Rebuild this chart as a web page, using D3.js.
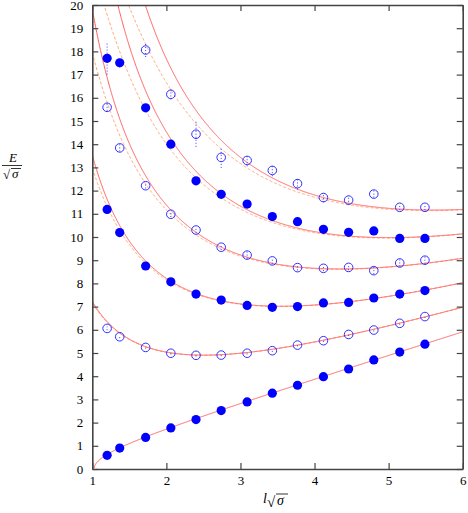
<!DOCTYPE html>
<html><head><meta charset="utf-8">
<script src="https://cdn.jsdelivr.net/npm/d3@7"></script>
<style>body{margin:0;background:#fff}svg{display:block}</style>
</head><body>
<script>
// ---- data ----
const lsig = [1.20, 1.37, 1.72, 2.06, 2.40, 2.74, 3.09, 3.43, 3.77, 4.12, 4.46, 4.80, 5.15, 5.49];
const s0 = [0.59, 0.90, 1.36, 1.77, 2.13, 2.52, 2.89, 3.27, 3.61, 3.98, 4.31, 4.70, 5.04, 5.38];
const s0err = [0.02,0.02,0.02,0.02,0.02,0.02,0.02,0.02,0.02,0.02,0.02,0.02,0.02,0.02];
const s1 = [6.06, 5.70, 5.24, 4.99, 4.90, 4.91, 4.99, 5.10, 5.34, 5.53, 5.80, 5.99, 6.28, 6.57];
const s1err = [0.08,0.06,0.05,0.05,0.05,0.05,0.05,0.05,0.05,0.05,0.06,0.06,0.06,0.06];
const s2 = [11.19, 10.19, 8.75, 8.07, 7.54, 7.28, 7.05, 6.97, 7.00, 7.16, 7.18, 7.37, 7.54, 7.69];
const s2err = [0.15,0.1,0.08,0.08,0.08,0.08,0.08,0.08,0.08,0.08,0.08,0.08,0.08,0.08];
const s3 = [15.59, 13.84, 12.21, 10.98, 10.30, 9.56, 9.22, 8.97, 8.68, 8.65, 8.69, 8.55, 8.88, 9.00];
const s3err = [0.15,0.15,0.12,0.12,0.12,0.12,0.15,0.12,0.12,0.12,0.12,0.15,0.15,0.15];
const s4 = [17.70, 17.51, 15.57, 14.00, 12.42, 11.84, 11.42, 10.88, 10.66, 10.33, 10.20, 10.26, 9.94, 9.94];
const s4err = [0.7,0.2,0.15,0.15,0.15,0.12,0.12,0.12,0.12,0.12,0.12,0.12,0.12,0.12];
const lsig5 = [1.72, 2.06, 2.40, 2.74, 3.09, 3.43, 3.77, 4.12, 4.46, 4.80, 5.15, 5.49];
const s5 = [18.06, 16.15, 14.43, 13.43, 13.30, 12.87, 12.30, 11.70, 11.59, 11.85, 11.28, 11.28];
const s5err = [0.3, 0.22, 0.54, 0.45, 0.25, 0.25, 0.25, 0.2, 0.2, 0.15, 0.12, 0.12];

// Nambu-Goto curves: level n (= N + N~), momentum quantum q
const ngN = [0, 1, 2, 3, 4, 5];
const ngQ = [0, 1, 2, 3, 4, 5];
// dashed curves: same, but with lattice momentum 2 sin(p a / 2) / a
const latN = [1, 2, 3, 4, 5];
const latQ = [1, 2, 3, 4, 5];
const aSqrtSigma = 0.0858;

const xTicks = [1, 2, 3, 4, 5, 6];
const yTicks = d3.range(0, 21);

// ---- drawing ----
const W = 468, H = 513;
const svg = d3.select("body").append("svg").attr("width", W).attr("height", H);
const x = d3.scaleLinear().domain([1, 6]).range([92.3, 462.7]);
const y = d3.scaleLinear().domain([0, 20]).range([469, 5]);
const font = "'Liberation Serif','DejaVu Serif',serif";

svg.append("defs").append("clipPath").attr("id", "clip")
  .append("rect").attr("x", x(1)).attr("y", y(20)).attr("width", x(6) - x(1)).attr("height", y(0) - y(20));

const plot = svg.append("g").attr("clip-path", "url(#clip)");
const xs = d3.range(1.0, 6.0001, 0.004);
const line = d3.line().x(d => x(d[0])).y(d => y(d[1]));

function curvePts(f) {
  const pts = [];
  xs.forEach(v => { const e2 = f(v); if (e2 >= 0) { const e = Math.sqrt(e2); if (e < 24) pts.push([v, e]); } });
  return pts;
}
const c0 = v => 4 * Math.PI * v; // helper
latN.forEach((n, i) => {
  const q = latQ[i];
  plot.append("path").datum(curvePts(v => {
    const p = 2 / aSqrtSigma * Math.sin(Math.PI * q * aSqrtSigma / v);
    return v * v + 4 * Math.PI * (n - 1 / 12) + p * p;
  }))
    .attr("d", line).attr("fill", "none").attr("stroke", "#ffa070").attr("stroke-width", 1)
    .attr("stroke-dasharray", "3,2");
});
ngN.forEach((n, i) => {
  const q = ngQ[i];
  plot.append("path").datum(curvePts(v => v * v + 4 * Math.PI * (n - 1 / 12) + Math.pow(2 * Math.PI * q / v, 2)))
    .attr("d", line).attr("fill", "none").attr("stroke", "#ff5a5a").attr("stroke-width", 1);
});

// frame & axes
const tk = 6;
svg.append("g").attr("transform", `translate(0,${y(0)})`)
  .call(d3.axisBottom(x).tickValues(xTicks).tickSizeInner(-tk).tickSizeOuter(0).tickPadding(7).tickFormat(d3.format("d")));
svg.append("g").attr("transform", `translate(0,${y(20)})`)
  .call(d3.axisTop(x).tickValues(xTicks).tickSizeInner(-tk).tickSizeOuter(0).tickFormat(""));
svg.append("g").attr("transform", `translate(${x(1)},0)`)
  .call(d3.axisLeft(y).tickValues(yTicks).tickSizeInner(-tk).tickSizeOuter(0).tickPadding(9).tickFormat(d3.format("d")));
svg.append("g").attr("transform", `translate(${x(6)},0)`)
  .call(d3.axisRight(y).tickValues(yTicks).tickSizeInner(-tk).tickSizeOuter(0).tickFormat(""));
svg.selectAll(".domain").attr("stroke", "#444").attr("stroke-width", 1.6);
svg.selectAll(".tick line").attr("stroke", "#444").attr("stroke-width", 1.2);
svg.selectAll(".tick text").style("font-family", font).style("font-size", "13px").attr("fill", "#000");

// data
function errbars(xv, yv, ev) {
  svg.append("g").selectAll("line").data(yv).join("line")
    .attr("x1", (d, i) => x(xv[i])).attr("x2", (d, i) => x(xv[i]))
    .attr("y1", (d, i) => y(d - ev[i])).attr("y2", (d, i) => y(d + ev[i]))
    .attr("stroke", "#3a3aff").attr("stroke-width", 1).attr("stroke-dasharray", "1,2");
}
function filled(xv, yv, ev) {
  errbars(xv, yv, ev);
  svg.append("g").selectAll("circle").data(yv).join("circle")
    .attr("cx", (d, i) => x(xv[i])).attr("cy", d => y(d)).attr("r", 4.6).attr("fill", "#0000ff");
}
function open(xv, yv, ev) {
  errbars(xv, yv, ev);
  svg.append("g").selectAll("circle").data(yv).join("circle")
    .attr("cx", (d, i) => x(xv[i])).attr("cy", d => y(d)).attr("r", 4.3)
    .attr("fill", "none").attr("stroke", "#3030ff").attr("stroke-width", 1);
}
filled(lsig, s0, s0err);
open(lsig, s1, s1err);
filled(lsig, s2, s2err);
open(lsig, s3, s3err);
filled(lsig, s4, s4err);
open(lsig5, s5, s5err);

// axis labels
const yl = svg.append("g").style("font-family", font).attr("fill", "#000");
yl.append("text").attr("x", 13).attr("y", 162).style("font-size", "13px").attr("font-style", "italic").attr("text-anchor", "middle").text("E");
yl.append("line").attr("x1", 2).attr("x2", 22).attr("y1", 165.5).attr("y2", 165.5).attr("stroke", "#000").attr("stroke-width", 0.8);
yl.append("text").attr("x", 3).attr("y", 179).style("font-size", "13px").text("√");
yl.append("line").attr("x1", 11).attr("x2", 21).attr("y1", 168.5).attr("y2", 168.5).attr("stroke", "#000").attr("stroke-width", 0.8);
yl.append("text").attr("x", 12).attr("y", 178).style("font-size", "13px").attr("font-style", "italic").text("σ");

const xl = svg.append("g").style("font-family", font).attr("fill", "#000");
xl.append("text").attr("x", 263).attr("y", 503).style("font-size", "14px").attr("font-style", "italic").text("l");
xl.append("text").attr("x", 267).attr("y", 507).style("font-size", "15px").text("√");
xl.append("line").attr("x1", 276).attr("x2", 288).attr("y1", 494).attr("y2", 494).attr("stroke", "#000").attr("stroke-width", 0.8);
xl.append("text").attr("x", 277).attr("y", 505).style("font-size", "14px").attr("font-style", "italic").text("σ");
</script>
</body></html>
